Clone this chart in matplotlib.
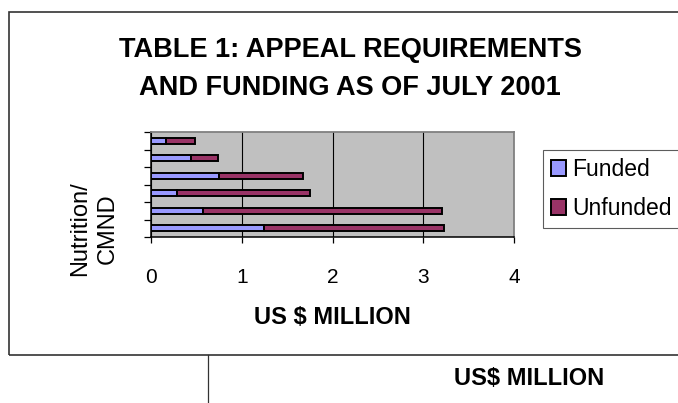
"""Appeal requirements and funding as of July 2001 (stacked horizontal bars)."""

import matplotlib

matplotlib.use("Agg")

import matplotlib.pyplot as plt
import numpy as np
from matplotlib.lines import Line2D
from matplotlib.patches import Rectangle

plt.rcParams["font.family"] = ["Liberation Sans", "DejaVu Sans"]

# Categories from bottom to top; only the bottom label is visible in the original.
categories = ["Nutrition/\nCMND", "", "", "", "", ""]
funded = [1.24, 0.57, 0.29, 0.75, 0.44, 0.16]
unfunded = [1.99, 2.64, 1.46, 0.93, 0.30, 0.33]
series_names = ["Funded", "Unfunded"]
x_ticks = [0, 1, 2, 3, 4]
title_lines = ["TABLE 1: APPEAL REQUIREMENTS", "AND FUNDING AS OF JULY 2001"]

FUNDED_COLOR = "#9999FF"
UNFUNDED_COLOR = "#993366"
PLOT_BG = "#C0C0C0"
W, H = 678, 403


def main():
    fig = plt.figure(figsize=(W / 100, H / 100), dpi=100)

    # outer chart frame (runs off the right edge like the original)
    frame = Rectangle((9 / W, 1 - 355 / H), 1.0, (355 - 12) / H,
                      transform=fig.transFigure, fill=False,
                      edgecolor="#333333", linewidth=1.2)
    fig.add_artist(frame)
    fig.add_artist(Line2D([208 / W, 208 / W], [0, 1 - 355 / H],
                          transform=fig.transFigure, color="#333333",
                          linewidth=0.9))

    ax = fig.add_axes([151 / W, 1 - 237 / H, 363 / W, 105 / H])
    ax.set_facecolor(PLOT_BG)

    y = np.arange(len(categories))
    ax.barh(y, funded, height=0.36, color=FUNDED_COLOR, edgecolor="black",
            linewidth=1.4, label=series_names[0], zorder=3)
    ax.barh(y, unfunded, left=funded, height=0.36, color=UNFUNDED_COLOR,
            edgecolor="black", linewidth=1.4, label=series_names[1], zorder=3)

    ax.set_xlim(0, 4)
    ax.set_ylim(-0.5, len(categories) - 0.5)
    ax.set_xticks(x_ticks)
    ax.set_xticklabels([str(t) for t in x_ticks], fontsize=15)
    ax.tick_params(axis="x", length=4.5, width=0.9, pad=18)
    ax.xaxis.grid(True, color="black", linewidth=0.8, zorder=1)

    # category labels at bar centres, tick marks on boundaries
    ax.set_yticks(y)
    ax.set_yticklabels(categories, rotation=90, va="center", ha="right",
                       multialignment="center", fontsize=17, linespacing=1.35)
    ax.tick_params(axis="y", which="major", length=0, pad=23)
    ax.set_yticks(np.arange(-0.5, len(categories)), minor=True)
    ax.tick_params(axis="y", which="minor", length=5, width=0.9)

    for side in ("top", "right"):
        ax.spines[side].set_color("#808080")
        ax.spines[side].set_linewidth(1.3)
    for side in ("left", "bottom"):
        ax.spines[side].set_color("black")
        ax.spines[side].set_linewidth(1.1)

    ax.set_xlabel("US $ MILLION", fontsize=17, fontweight="bold", va="center")
    ax.xaxis.set_label_coords(0.5, (237 - 318) / 105)

    fig.text(350 / W, 1 - 57 / H, title_lines[0], ha="center", va="baseline",
             fontsize=19.5, fontweight="bold")
    fig.text(350 / W, 1 - 95 / H, title_lines[1], ha="center", va="baseline",
             fontsize=19.5, fontweight="bold")

    # legend box runs past the right edge, as in the original
    legend = fig.legend(loc="upper left", bbox_to_anchor=(543 / W, 1 - 150 / H),
                        fontsize=16.5, frameon=True, fancybox=False,
                        edgecolor="#333333", handlelength=0.65,
                        handleheight=0.7, handletextpad=0.28,
                        labelspacing=0.68, borderpad=0.35, borderaxespad=0)
    legend.get_frame().set_linewidth(0.8)

    fig.text(529 / W, 1 - 385 / H, "US$ MILLION", ha="center",
             va="baseline", fontsize=17, fontweight="bold")

    fig.savefig("out.png", dpi=100)
    plt.close(fig)


if __name__ == "__main__":
    main()
